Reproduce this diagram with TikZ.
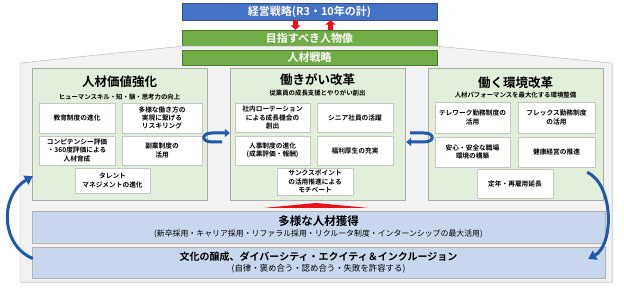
\documentclass[tikz,border=0pt]{standalone}
\usepackage{fontspec}
\setmainfont{Noto Sans CJK JP}[BoldFont={Noto Sans CJK JP Bold}]
\usetikzlibrary{arrows.meta,shadows}

\definecolor{topblue}{HTML}{4472C4}
\definecolor{leafgreen}{HTML}{70AD47}
\definecolor{panelgreen}{HTML}{E2EFDA}
\definecolor{barblue}{HTML}{C9D7EE}
\definecolor{framegray}{HTML}{F2F2F2}
\definecolor{arrblue}{HTML}{1F5AAB}
\definecolor{redc}{HTML}{E8101A}

\begin{document}
\begin{tikzpicture}[x=1pt, y=-1pt,
	topbox/.style={draw=topblue!70!black, fill=topblue, text=white, minimum width=255pt, inner sep=0pt, font=\fontsize{11}{13}\selectfont\bfseries},
	greenbox/.style={draw=leafgreen!70!black, fill=leafgreen, text=white, minimum width=255pt, inner sep=0pt, font=\fontsize{11}{13}\selectfont\bfseries},
	panel/.style={draw=gray!65, fill=panelgreen, minimum width=175pt, minimum height=132pt, drop shadow={shadow xshift=1.2pt, shadow yshift=-1.2pt, fill=gray!55}},
	ptitle/.style={inner sep=0pt, font=\fontsize{12.5}{14}\selectfont\bfseries},
	psub/.style={inner sep=0pt, font=\fontsize{6.4}{8}\selectfont\bfseries},
	item/.style={draw=gray!45, fill=white, align=center, inner sep=1pt, font=\fontsize{6.7}{8.3}\selectfont\bfseries, drop shadow={shadow xshift=0.8pt, shadow yshift=-0.8pt, fill=gray!45}},
	bar/.style={draw=gray!60, fill=barblue, minimum width=573pt, align=center, inner sep=0pt, drop shadow={shadow xshift=1.2pt, shadow yshift=-1.2pt, fill=gray!55}},
	redarr/.style={draw=redc, line width=4.5pt, -{Triangle[length=4.5pt, width=10pt]}},
	loopar/.style={draw=arrblue, line width=3pt, -{Triangle[length=5pt, width=8pt]}},
	bigarr/.style={draw=arrblue, line width=3pt, -{Triangle[length=8pt, width=10pt]}}
]
\useasboundingbox (0,0) rectangle (624,288);

% 上部
\node[topbox, minimum height=17pt] (tb) at (309.5,11.5) {経営戦略(R3・10年の計)};
\node[greenbox, minimum height=16pt] (g1) at (309.5,38) {目指すべき人物像};

% 外枠
\fill[framegray, draw=gray!60, drop shadow={shadow xshift=1.2pt, shadow yshift=-1.2pt, fill=gray!50}]
	(20,282) -- (20,63) -- (g1.south west) -- (g1.south east) -- (612,63) -- (612,282) -- cycle;
\node[greenbox, minimum height=15pt] (g2) at (309.5,57.5) {人材戦略};

\draw[redarr] ([xshift=-14pt]tb.south) -- ([xshift=-14pt]g1.north);
\draw[redarr] ([xshift=21pt]g1.north) -- ([xshift=21pt]tb.south);

% 左：人材価値強化
\node[panel] (lp) at (119.5,134) {};
\node[ptitle] (lt) at (119.5,82) {人材価値強化};
\node[psub] (ls) at (119.5,97) {ヒューマンスキル・知・験・思考力の向上};
\node[item, minimum width=76pt, minimum height=30pt] (l1) at (77,118) {教育制度の進化};
\node[item, minimum width=80pt, minimum height=30pt] (l2) at (162,118) {多様な働き方の\\実現に繋げる\\リスキリング};
\node[item, minimum width=76pt, minimum height=29pt] (l3) at (77,150.5) {コンピテンシー評価\\・360度評価による\\人材育成};
\node[item, minimum width=80pt, minimum height=29pt] (l4) at (162,150.5) {副業制度の\\活用};
\node[item, minimum width=75pt, minimum height=25pt] (l5) at (112.5,180.5) {タレント\\マネジメントの進化};

% 中：働きがい改革
\node[panel] (mp) at (317.5,134) {};
\node[ptitle] (mt) at (317.5,80) {働きがい改革};
\node[psub] (ms) at (317.5,93) {従業員の成長支援とやりがい創出};
\node[item, minimum width=75pt, minimum height=29pt] (m1) at (272.5,117.5) {社内ローテーション\\による成長機会の\\創出};
\node[item, minimum width=76pt, minimum height=29pt] (m2) at (355,117.5) {シニア社員の活躍};
\node[item, minimum width=75pt, minimum height=29pt] (m3) at (272.5,150.5) {人事制度の進化\\(成果評価・報酬)};
\node[item, minimum width=76pt, minimum height=29pt] (m4) at (355,150.5) {福利厚生の充実};
\node[item, minimum width=76pt, minimum height=27pt] (m5) at (315,181.5) {サンクスポイント\\の活用推進による\\モチベート};

% 右：働く環境改革
\node[panel] (rp) at (515.5,134) {};
\node[ptitle] (rt) at (515.5,83) {働く環境改革};
\node[psub] (rs) at (515.5,95) {人材パフォーマンスを最大化する環境整備};
\node[item, minimum width=75pt, minimum height=31pt] (r1) at (472.5,117.5) {テレワーク勤務制度の\\活用};
\node[item, minimum width=77pt, minimum height=31pt] (r2) at (556.5,117.5) {フレックス勤務制度\\の活用};
\node[item, minimum width=75pt, minimum height=30pt] (r3) at (472.5,152) {安心・安全な職場\\環境の構築};
\node[item, minimum width=77pt, minimum height=30pt] (r4) at (556.5,152) {健康経営の推進};
\node[item, minimum width=76pt, minimum height=29pt] (r5) at (515,183.5) {定年・再雇用延長};

% 下部の帯
\node[bar, minimum height=32pt] (b1) at (318.5,227) {{\fontsize{11.5}{13}\selectfont\bfseries 多様な人材獲得}\\[-1pt]
	{\fontsize{7.9}{9}\selectfont (新卒採用・キャリア採用・リファラル採用・リクルータ制度・インターンシップの最大活用)}};
\node[bar, minimum height=31pt] (b2) at (318.5,262.5) {{\fontsize{10}{12}\selectfont\bfseries 文化の醸成、ダイバーシティ・エクイティ＆インクルージョン}\\[-1pt]
	{\fontsize{8.4}{9}\selectfont (自律・褒め合う・認め合う・失敗を許容する)}};

\fill[redc] (263,208) -- (316,203) -- (369,208) -- cycle;

% 矢印
\draw[loopar] ([xshift=15pt,yshift=-8pt]lp.east) -- (212,142) .. controls (201,142) and (201,133) .. (212,133) -- ([yshift=1pt]mp.west);
\draw[loopar] ([xshift=5pt,yshift=1pt]mp.east) -- (424,133) .. controls (435,133) and (435,142) .. (424,142) -- ([xshift=1pt,yshift=-8pt]mp.east);
\draw[bigarr] ([xshift=1pt,yshift=4pt]b2.west) .. controls (0,245) and (0,195) .. ([xshift=1pt,yshift=24pt]lp.south west);
\draw[bigarr] ([xshift=-16pt,yshift=28pt]rp.south east) .. controls (614,185) and (614,245) .. ([xshift=-17pt,yshift=3.5pt]b2.east);
\end{tikzpicture}
\end{document}
